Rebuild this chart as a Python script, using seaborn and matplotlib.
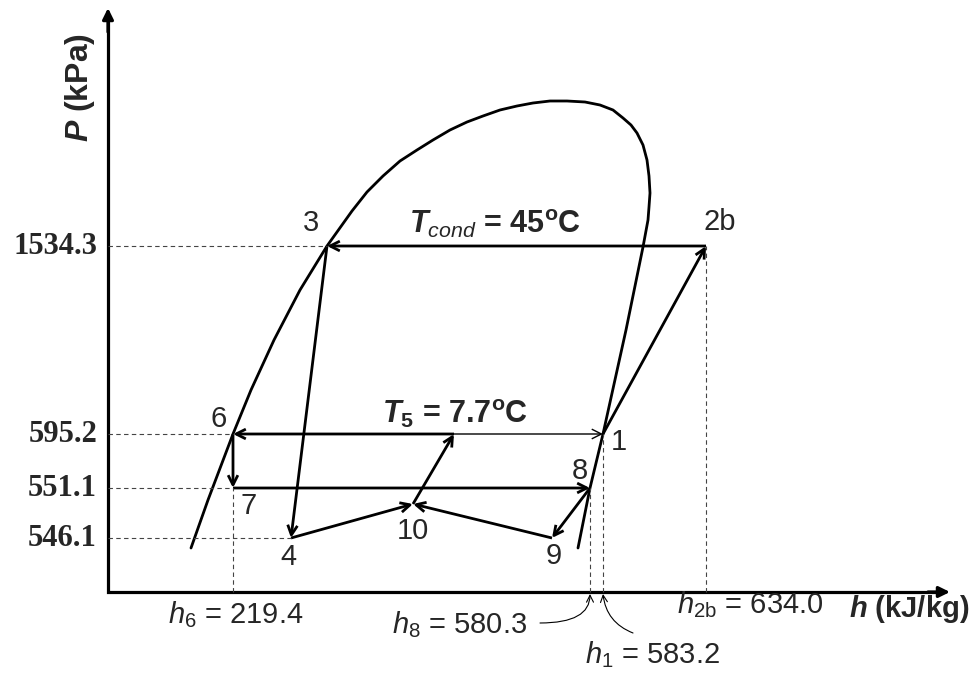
import numpy as np
import pandas as pd
import matplotlib
matplotlib.use("Agg")
import matplotlib.pyplot as plt
from matplotlib.patches import FancyArrowPatch
import seaborn as sns

sns.set_theme(style="white")
plt.rcParams["font.family"] = ["Liberation Sans", "DejaVu Sans"]
plt.rcParams["mathtext.fontset"] = "custom"
plt.rcParams["mathtext.rm"] = "Liberation Sans"
plt.rcParams["mathtext.it"] = "Liberation Sans:italic"
plt.rcParams["mathtext.bf"] = "Liberation Sans:bold"
plt.rcParams["mathtext.bfit"] = "Liberation Sans:bold:italic"

# ---- schematic P-h diagram (positions in diagram units, origin at the axes corner)
# pressure levels and their heights on the schematic
p_ticks = ["1534.3", "595.2", "551.1", "546.1"]
p_pos = [346, 158, 104, 54]

# enthalpy markers (kJ/kg) and their places on the schematic
h_names = ["6", "8", "1", "2b"]
h_values = [219.4, 580.3, 583.2, 634.0]
h_pos = [125, 482, 495, 598]

# cycle states
state_names = ["1", "2b", "3", "4", "5", "6", "7", "8", "9", "10"]
state_x = [495, 598, 219, 183, 346, 125, 125, 482, 444, 305]
state_y = [158, 346, 346, 54, 158, 158, 104, 104, 54, 88]

# saturation dome, liquid branch -> critical region -> vapour branch
dome_x = [83, 100, 125, 143, 166, 192, 219, 229, 244, 259, 275, 292, 309, 325,
          342, 359, 375, 392, 409, 425, 442, 459, 477, 492, 505, 515, 523, 529,
          535, 539, 541, 542, 541, 540, 535, 518, 495, 482, 470]
dome_y = [44, 92, 158, 202, 252, 302, 346, 360, 381, 400, 416, 431, 442, 452,
          462, 470, 476, 482, 486, 489, 491, 491, 490, 487, 482, 474, 467, 459,
          447, 432, 416, 399, 385, 372, 345, 262, 158, 104, 44]

# process lines: (from, to, line width)
processes = [("1", "2b", 2.0), ("2b", "3", 2.0), ("3", "4", 2.0),
             ("4", "10", 2.0), ("9", "10", 2.0), ("10", "5", 2.0),
             ("5", "6", 2.0), ("5", "1", 1.0), ("6", "7", 2.0),
             ("7", "8", 2.0), ("8", "9", 2.0)]

# dashed guides: pressure level -> state, enthalpy marker -> state
p_guides = ["3", "6", "7", "4"]
h_guides = ["7", "8", "1", "2b"]

pt = dict(zip(state_names, zip(state_x, state_y)))

fig = plt.figure(figsize=(9.77, 6.73), dpi=100)
ax = fig.add_axes([0, 0, 1, 1])
ax.set_xlim(-108, 869)
ax.set_ylim(-81, 592)
ax.axis("off")

dome = pd.DataFrame({"h": dome_x, "P": dome_y})
sns.lineplot(data=dome, x="h", y="P", sort=False, estimator=None,
             color="black", lw=2.0, ax=ax, legend=False)

# axes with arrow heads
ax.plot([0, 0, 836], [578, 0, 0], color="black", lw=2.3,
        solid_joinstyle="miter", solid_capstyle="butt")
for a, b in [((0, 560), (0, 584)), ((820, 0), (842, 0))]:
    ax.add_patch(FancyArrowPatch(a, b, arrowstyle="-|>,head_length=0.65,head_width=0.32",
                                 mutation_scale=10, color="black", lw=2.3,
                                 shrinkA=0, shrinkB=0))

# dashed guide lines
dash = dict(color="#444444", lw=0.8, ls=(0, (4, 3)))
for y, s in zip(p_pos, p_guides):
    ax.plot([0, pt[s][0]], [y, y], **dash)
for x, s in zip(h_pos, h_guides):
    ax.plot([x, x], [0, pt[s][1]], **dash)

# cycle processes
for a, b, lw in processes:
    ax.add_patch(FancyArrowPatch(pt[a], pt[b],
                                 arrowstyle="->,head_length=0.7,head_width=0.35",
                                 mutation_scale=10, color="black", lw=lw,
                                 shrinkA=0, shrinkB=0, capstyle="butt"))

# state labels
label_off = {"1": (16, -8), "2b": (14, 24), "3": (-16, 23), "4": (-3, -19),
             "6": (-14, 15), "7": (16, -18), "8": (-10, 17), "9": (2, -18),
             "10": (0, -27)}
for s, (dx, dy) in label_off.items():
    x, y = pt[s]
    ax.text(x + dx, y + dy, s, fontsize=21, ha="center", va="center")

# pressure tick labels
for y, t in zip(p_pos, p_ticks):
    ax.text(-11, y, t, fontsize=22, fontweight="bold",
            family=["Liberation Serif", "DejaVu Serif"], ha="right", va="center")

ax.text(-28, 504, r"$\mathbfit{P}$ (kPa)", fontsize=23, fontweight="bold",
        rotation=90, ha="center", va="center")
ax.text(801, -25, r"$\mathbfit{h}$ (kJ/kg)", fontsize=21, fontweight="bold",
        ha="center", va="baseline")

ax.text(387, 359, r"$\mathbfit{T}_{\mathit{cond}}$ = 45$^{\mathbf{o}}$C",
        fontsize=22, fontweight="bold", ha="center", va="baseline")
ax.text(347, 169, r"$\mathbfit{T}_{\mathbf{5}}$ = 7.7$^{\mathbf{o}}$C",
        fontsize=22, fontweight="bold", ha="center", va="baseline")

# enthalpy value labels
def hlab(name, val):
    return r"$\mathit{h}_{\mathrm{%s}}$ = %.1f" % (name, val)

h_text_at = {"6": (128, -31), "8": (352, -41), "1": (544, -71), "2b": (642, -21)}
for n, v in zip(h_names, h_values):
    x, y = h_text_at[n]
    ax.text(x, y, hlab(n, v), fontsize=21, ha="center", va="baseline")

# leader arrows for the crowded enthalpy markers
x8 = h_pos[h_names.index("8")]
x1 = h_pos[h_names.index("1")]
ax.add_patch(FancyArrowPatch((432, -31), (x8, -2),
                             connectionstyle="angle3,angleA=0,angleB=90",
                             arrowstyle="->,head_length=0.5,head_width=0.25",
                             mutation_scale=10, color="black", lw=0.8,
                             shrinkA=0, shrinkB=0))
ax.add_patch(FancyArrowPatch((525, -41), (x1, -2),
                             connectionstyle="arc3,rad=-0.3",
                             arrowstyle="->,head_length=0.5,head_width=0.25",
                             mutation_scale=10, color="black", lw=0.8,
                             shrinkA=0, shrinkB=0))

fig.savefig("out.png", dpi=100)
